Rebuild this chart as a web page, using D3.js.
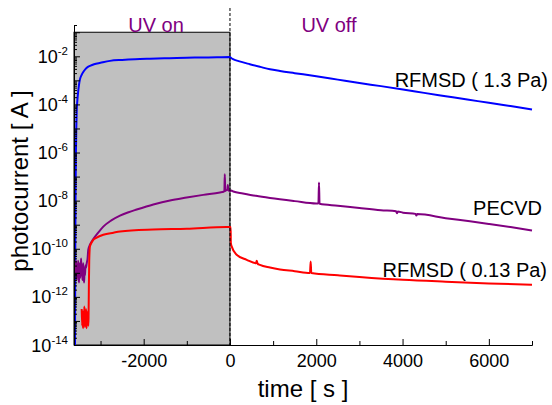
<!DOCTYPE html>
<html>
<head>
<meta charset="utf-8">
<script src="https://cdn.jsdelivr.net/npm/d3@7"></script>
<style>
body { margin: 0; background: #fff; }
text { font-family: "Liberation Sans", Arial, sans-serif; }
</style>
</head>
<body>
<div id="chart"></div>
<script>
// time [s] and log10(photocurrent [A])

var blueT = [-3592, -3585, -3578, -3570, -3562, -3553, -3540, -3520, -3500, -3476, -3440, -3400, -3350, -3300, -3245, -3150, -3000, -2781, -2500, -2200, -1854, -1400, -1000, -695, -300, 0,
             20, 70, 200, 460, 700, 927, 1160, 1500, 2000, 2500, 3000, 3500, 4009, 4500, 5000, 5500, 6000, 6500, 7000];
var blueLog = [-14.2, -10, -7.5, -6, -5, -4.3, -3.9, -3.5, -3.2, -2.95, -2.78, -2.65, -2.53, -2.45, -2.4, -2.33, -2.27, -2.19, -2.15, -2.12, -2.1, -2.08, -2.06, -2.05, -2.04, -2.03,
               -2.06, -2.12, -2.2, -2.33, -2.44, -2.54, -2.61, -2.7, -2.83, -2.97, -3.11, -3.24, -3.38, -3.52, -3.66, -3.8, -3.93, -4.07, -4.21];

var purpleT = [-3592, -3580, -3570, -3560, -3550, -3540, -3530, -3520, -3510, -3500, -3490, -3480, -3470, -3460, -3450, -3440, -3430, -3420, -3410, -3400,
               -3390, -3380, -3370, -3360, -3350, -3340, -3320, -3300, -3284, -3250, -3168, -3050, -2936, -2750, -2549, -2350, -2162, -1777, -1390, -1003, -619, -232,
               -150, -130, -120, -110, -100, -60, -50, -40, 0,
               30, 77, 300, 600, 927, 1500, 2000, 2050, 2063, 2076, 2500, 3000, 3500, 3850, 3870, 3890, 4009, 4300, 4320, 4340, 5000, 5562, 6000, 6500, 7000];
var purpleLog = [-10.6, -11.0, -10.5, -10.9, -11.3, -10.7, -11.1, -10.5, -10.8, -11.4, -10.9, -10.6, -11.2, -10.8, -10.4, -11.0, -10.7, -11.3, -10.9, -10.6,
                 -11.2, -11.4, -10.9, -11.1, -10.7, -10.8, -10.6, -10.4, -10.04, -9.85, -9.6, -9.32, -9.08, -8.82, -8.62, -8.48, -8.37, -8.16, -7.99, -7.87, -7.76, -7.66,
                 -7.63, -7.6, -6.9, -7.6, -7.58, -7.55, -7.35, -7.57, -7.6,
                 -7.58, -7.62, -7.7, -7.8, -7.89, -8.02, -8.12, -8.12, -7.25, -8.13, -8.21, -8.31, -8.4, -8.44, -8.52, -8.45, -8.5, -8.55, -8.62, -8.56, -8.73, -8.86, -8.97, -9.1, -9.24];

var redT = [-3437, -3425, -3415, -3405, -3395, -3385, -3375, -3365, -3355, -3345, -3335, -3325, -3315, -3305, -3295, -3285, -3278, -3270, -3262, -3245, -3200, -3168, -3100, -2936, -2700, -2549, -1777, -1003, -76, 0,
            16, 20, 39, 155, 387, 600, 620, 640, 695, 927, 1159, 1500, 1854, 1870, 1885, 2500, 3000, 4009, 5000, 6000, 7000];
var redLog = [-12.5, -13.2, -12.6, -13.3, -12.7, -13.1, -12.4, -13.25, -12.8, -13.0, -12.5, -13.3, -12.7, -13.1, -12.6, -13.2, -12.9, -11.5, -10.5, -9.9, -9.72, -9.63, -9.55, -9.42, -9.33, -9.28, -9.2, -9.17, -9.1, -9.1,
              -9.1, -9.75, -9.9, -10.25, -10.46, -10.6, -10.5, -10.62, -10.67, -10.78, -10.86, -10.93, -11.01, -10.53, -11.01, -11.1, -11.17, -11.29, -11.37, -11.44, -11.5];

var seriesNames = ["RFMSD ( 1.3 Pa)", "PECVD", "RFMSD ( 0.13 Pa)"];
var seriesColors = ["#0000ff", "#800080", "#ff0000"];

var xMajor = [-2000, 0, 2000, 4000, 6000];
var xMinor = [-3000, -1000, 1000, 3000, 5000, 7000];
var yLabelExp = [-14, -12, -10, -8, -6, -4, -2];

var chartW = 552,
    chartH = 405,
    plotL = 74,
    plotR = 532,
    plotT = 25,
    plotB = 345;

var svg = d3.select("#chart").append("svg")
    .attr("width", chartW)
    .attr("height", chartH);

var x = d3.scaleLinear().domain([-3615, 7000]).range([plotL, plotR]);
var y = d3.scaleLog().domain([1e-14, 0.2]).range([plotB, plotT]);

function pack(ts, vs) {
    return ts.map(function(t, i) { return { t: t, v: Math.pow(10, vs[i]) }; });
}

// grey "UV on" box
svg.append("rect")
    .attr("x", x(-3615))
    .attr("y", y(1e-1))
    .attr("width", x(0) - x(-3615))
    .attr("height", y(1e-14) - y(1e-1))
    .style("fill", "#c0c0c0")
    .style("stroke", "#000")
    .style("stroke-width", 1);

svg.append("clipPath").attr("id", "plotclip")
    .append("rect")
    .attr("x", plotL).attr("y", plotT)
    .attr("width", plotR - plotL + 2).attr("height", plotB - plotT);

var line = d3.line()
    .curve(d3.curveMonotoneX)
    .x(function(d) { return x(d.t); })
    .y(function(d) { return y(d.v); });

var series = [pack(blueT, blueLog), pack(purpleT, purpleLog), pack(redT, redLog)];

svg.append("g").attr("clip-path", "url(#plotclip)")
  .selectAll("path")
    .data(series)
  .enter().append("path")
    .attr("d", line)
    .style("fill", "none")
    .style("stroke", function(d, i) { return seriesColors[i]; })
    .style("stroke-width", 2)
    .style("stroke-linejoin", "round");

// dashed line at UV switch-off
svg.append("line")
    .attr("x1", x(0)).attr("x2", x(0))
    .attr("y1", 8).attr("y2", plotB)
    .style("stroke", "#000")
    .style("stroke-width", 1)
    .style("stroke-dasharray", "3,2");

// x axis
var gx = svg.append("g").attr("transform", "translate(0," + plotB + ")");
gx.call(d3.axisBottom(x).tickValues(xMajor).tickSizeInner(-6).tickSizeOuter(0).tickPadding(9)
    .tickFormat(function(d) { return String(d); }));
gx.append("g").call(d3.axisBottom(x).tickValues(xMinor).tickSizeInner(-4).tickSizeOuter(0).tickFormat(""));
gx.selectAll("text").style("font-size", "18px").style("font-family", "'Liberation Sans', Arial, sans-serif").attr("fill", "#000");
gx.selectAll("path, line").style("stroke", "#000");

// y axis, decades plus 2..9 minors
var yMajor = [], yMinor = [];
for (var e = -14; e <= -1; e++) {
    yMajor.push(Math.pow(10, e));
    for (var m = 2; m <= 9; m++) {
        var v = m * Math.pow(10, e);
        if (v <= 0.2001) yMinor.push(v);
    }
}
var gy = svg.append("g").attr("transform", "translate(" + plotL + ",0)");
gy.call(d3.axisLeft(y).tickValues(yMajor).tickSizeInner(-6).tickSizeOuter(0).tickFormat(""));
gy.append("g").call(d3.axisLeft(y).tickValues(yMinor).tickSizeInner(-3).tickSizeOuter(0).tickFormat(""));
gy.selectAll("path, line").style("stroke", "#000");

var ylab = svg.selectAll(".ylab")
    .data(yLabelExp)
  .enter().append("text")
    .attr("class", "ylab")
    .attr("x", 68)
    .attr("y", function(d) { return y(Math.pow(10, d)) + 6.5; })
    .attr("text-anchor", "end")
    .style("font-size", "18px");
ylab.append("tspan").text("10");
ylab.append("tspan")
    .attr("dy", -8)
    .style("font-size", "11.5px")
    .text(function(d) { return "-" + Math.abs(d); });

// axis titles
svg.append("text")
    .attr("x", 303).attr("y", 397)
    .attr("text-anchor", "middle")
    .style("font-size", "24px")
    .text("time [ s ]");

svg.append("text")
    .attr("transform", "translate(28,181) rotate(-90)")
    .attr("text-anchor", "middle")
    .style("font-size", "24px")
    .text("photocurrent [ A ]");

// UV labels
svg.append("text")
    .attr("x", 156).attr("y", 32)
    .attr("text-anchor", "middle")
    .style("font-size", "20px")
    .style("fill", "#800080")
    .text("UV on");
svg.append("text")
    .attr("x", 329).attr("y", 32)
    .attr("text-anchor", "middle")
    .style("font-size", "20px")
    .style("fill", "#800080")
    .text("UV off");

// series names
var nameX = [548, 542, 547],
    nameY = [87, 215, 277];
svg.selectAll(".sname")
    .data(seriesNames)
  .enter().append("text")
    .attr("class", "sname")
    .attr("x", function(d, i) { return nameX[i]; })
    .attr("y", function(d, i) { return nameY[i]; })
    .attr("text-anchor", "end")
    .style("font-size", "20px")
    .text(function(d) { return d; });
</script>
</body>
</html>
